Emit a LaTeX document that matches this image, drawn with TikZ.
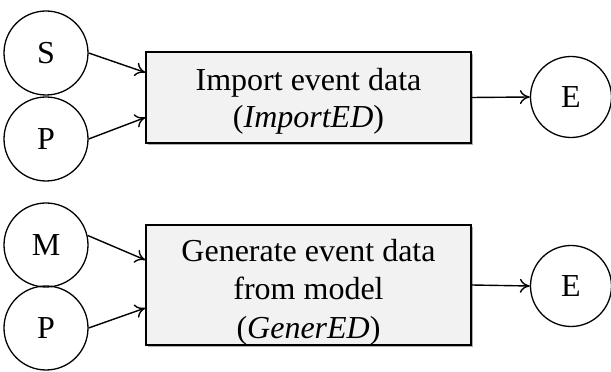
\documentclass[tikz,border=0pt]{standalone}
\usepackage{fontspec}
\setmainfont{Liberation Serif}
\usetikzlibrary{arrows.meta,shadows}
% strut that sets the height of a node's first line of text
\newcommand{\firstline}[1]{\rule{0pt}{#1}}
\begin{document}
\begin{tikzpicture}[x=1pt,y=1pt,
  every node/.style={font=\fontsize{32}{37}\selectfont},
  place/.style={circle,draw=black,line width=1.3pt,minimum size=#1,inner sep=0pt},
  place/.default=84pt,
  task/.style={draw=black,line width=1.4pt,fill=black!5,align=center,
    minimum width=325pt,inner sep=0pt,
    drop shadow={shadow xshift=1.8pt,shadow yshift=-1.8pt,fill=black!45,opacity=.7}},
  flow/.style={line width=1.4pt,-{To[length=10pt,width=14pt]}}]
\useasboundingbox (0,0) rectangle (611,372);

% import branch
\node[place] (s)  at (46,319) {S};
\node[place] (p1) at (46,233) {P};
\node[task,minimum height=91pt] (imp) at (308.5,274.5)
  {\firstline{30pt}Import event data\\(\textit{ImportED})};
\node[place=81pt] (e1) at (571,275) {E};

% generation branch
\node[place] (m)  at (46,127) {M};
\node[place] (p2) at (46,44) {P};
\node[task,minimum height=120pt,font=\fontsize{32}{38.5}\selectfont] (gen) at (308.5,87)
  {\firstline{36pt}Generate event data\\from model\\(\textit{GenerED})};
\node[place=81pt] (e2) at (571,86) {E};

\draw[flow] (s.east)     -- ([yshift=25pt]imp.west);
\draw[flow] (p1.east)    -- ([yshift=-20pt]imp.west);
\draw[flow] (imp.east)   -- (e1.west);
\draw[flow] (m.13)       -- ([yshift=25pt]gen.west);
\draw[flow] (p2.east)    -- ([yshift=-23pt]gen.west);
\draw[flow] (gen.east)   -- (e2.west);
\end{tikzpicture}
\end{document}
